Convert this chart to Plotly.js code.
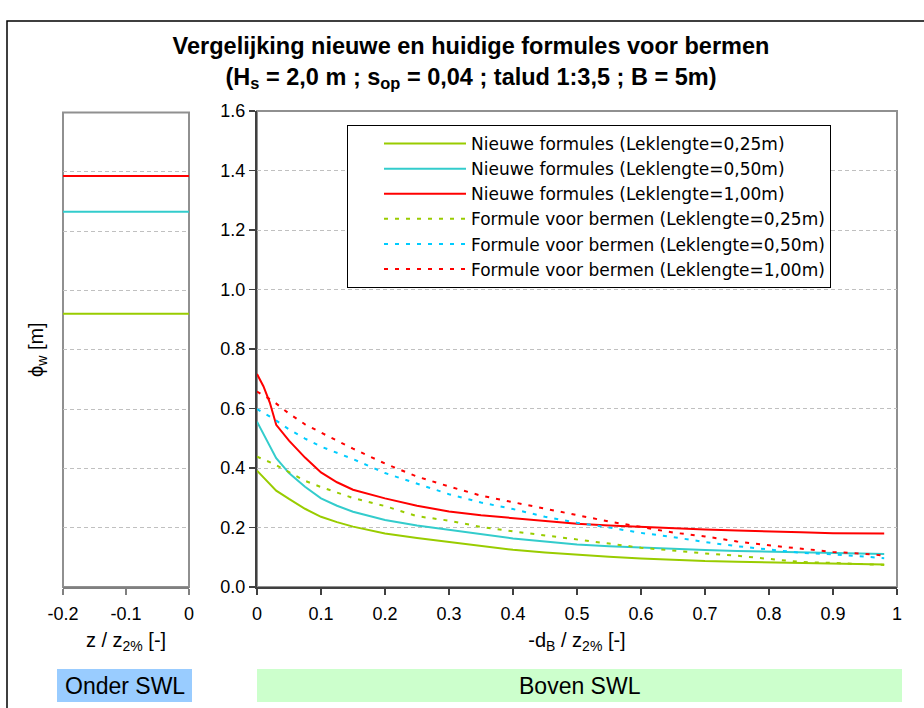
<!DOCTYPE html>
<html><head><meta charset="utf-8">
<script src="https://cdn.plot.ly/plotly-3.0.1.min.js"></script>
<style>html,body{margin:0;padding:0;background:#fff}#chart{width:924px;height:708px}</style>
</head><body><div id="chart"></div>
<script>
// ---- data ----
const xNew = [0, 0.01, 0.02, 0.03, 0.05, 0.075, 0.1, 0.125, 0.15, 0.2, 0.25, 0.3, 0.35, 0.4, 0.45, 0.5, 0.55, 0.6, 0.65, 0.7, 0.75, 0.8, 0.85, 0.9, 0.95, 0.98];
const newL025 = [0.391, 0.368, 0.346, 0.324, 0.296, 0.263, 0.236, 0.218, 0.203, 0.180, 0.165, 0.152, 0.140, 0.125, 0.116, 0.108, 0.102, 0.096, 0.091, 0.087, 0.085, 0.083, 0.080, 0.078, 0.077, 0.076];
const newL050 = [0.556, 0.515, 0.473, 0.433, 0.383, 0.337, 0.298, 0.273, 0.253, 0.225, 0.207, 0.192, 0.179, 0.163, 0.153, 0.143, 0.137, 0.132, 0.128, 0.124, 0.121, 0.119, 0.116, 0.113, 0.112, 0.111];
const newL100 = [0.716, 0.675, 0.620, 0.545, 0.492, 0.435, 0.385, 0.352, 0.327, 0.298, 0.273, 0.254, 0.241, 0.231, 0.222, 0.213, 0.207, 0.202, 0.197, 0.193, 0.190, 0.188, 0.184, 0.181, 0.180, 0.180];

const xBerm = [0, 0.025, 0.05, 0.075, 0.1, 0.15, 0.2, 0.25, 0.3, 0.35, 0.4, 0.45, 0.5, 0.55, 0.6, 0.65, 0.7, 0.75, 0.8, 0.85, 0.9, 0.95, 0.98];
const bermL025 = [0.438, 0.415, 0.386, 0.357, 0.336, 0.299, 0.272, 0.238, 0.223, 0.202, 0.187, 0.174, 0.161, 0.146, 0.132, 0.122, 0.113, 0.105, 0.095, 0.084, 0.081, 0.077, 0.074];
const bermL050 = [0.598, 0.567, 0.530, 0.499, 0.472, 0.430, 0.383, 0.348, 0.312, 0.284, 0.262, 0.236, 0.216, 0.200, 0.182, 0.168, 0.151, 0.137, 0.125, 0.115, 0.110, 0.103, 0.097];
const bermL100 = [0.657, 0.625, 0.583, 0.547, 0.519, 0.465, 0.415, 0.371, 0.338, 0.307, 0.285, 0.264, 0.241, 0.220, 0.202, 0.183, 0.170, 0.153, 0.140, 0.128, 0.118, 0.111, 0.106];

const xOnder = [-0.2, 0];
const onderL025 = [0.921, 0.921];
const onderL050 = [1.265, 1.265];
const onderL100 = [1.386, 1.386];

const seriesNames = [
  "Nieuwe formules (Leklengte=0,25m)",
  "Nieuwe formules (Leklengte=0,50m)",
  "Nieuwe formules (Leklengte=1,00m)",
  "Formule voor bermen (Leklengte=0,25m)",
  "Formule voor bermen (Leklengte=0,50m)",
  "Formule voor bermen (Leklengte=1,00m)"
];
const leftTickVals = [-0.2, -0.1, 0];
const leftTickText = ["-0.2", "-0.1", "0"];
const mainXTickVals = [0, 0.1, 0.2, 0.3, 0.4, 0.5, 0.6, 0.7, 0.8, 0.9, 1];
const mainXTickText = ["0", "0.1", "0.2", "0.3", "0.4", "0.5", "0.6", "0.7", "0.8", "0.9", "1"];
const yTickVals = [0, 0.2, 0.4, 0.6, 0.8, 1.0, 1.2, 1.4, 1.6];
const yTickText = ["0.0", "0.2", "0.4", "0.6", "0.8", "1.0", "1.2", "1.4", "1.6"];

// ---- styling ----
const W = 924, H = 708;
const FONT = "Liberation Sans, Arial, sans-serif";
const LEGFONT = "DejaVu Sans, Liberation Sans, sans-serif";
const cGreen = "#99CC00", cCyan = "#33CCCC", cRed = "#FF0000", cBlue = "#00CCFF";
const DASH = "4px,7px";
const GRIDDASH = "4px,3px";
const px = v => v / W;
const py = v => 1 - v / H;

const traces = [
  {x: xNew, y: newL025, name: seriesNames[0], mode: "lines", line: {color: cGreen, width: 2}, xaxis: "x", yaxis: "y"},
  {x: xNew, y: newL050, name: seriesNames[1], mode: "lines", line: {color: cCyan, width: 2}, xaxis: "x", yaxis: "y"},
  {x: xNew, y: newL100, name: seriesNames[2], mode: "lines", line: {color: cRed, width: 2}, xaxis: "x", yaxis: "y"},
  {x: xBerm, y: bermL025, name: seriesNames[3], mode: "lines", line: {color: cGreen, width: 2, dash: DASH}, xaxis: "x", yaxis: "y"},
  {x: xBerm, y: bermL050, name: seriesNames[4], mode: "lines", line: {color: cBlue, width: 2, dash: DASH}, xaxis: "x", yaxis: "y"},
  {x: xBerm, y: bermL100, name: seriesNames[5], mode: "lines", line: {color: cRed, width: 2, dash: DASH}, xaxis: "x", yaxis: "y"},
  {x: xOnder, y: onderL025, mode: "lines", line: {color: cGreen, width: 2}, xaxis: "x2", yaxis: "y2", showlegend: false},
  {x: xOnder, y: onderL050, mode: "lines", line: {color: cCyan, width: 2}, xaxis: "x2", yaxis: "y2", showlegend: false},
  {x: xOnder, y: onderL100, mode: "lines", line: {color: cRed, width: 2}, xaxis: "x2", yaxis: "y2", showlegend: false}
];

const tickFont = {family: FONT, size: 18, color: "#000"};
const axTitleFont = {family: FONT, size: 20, color: "#000"};
const layout = {
  width: W, height: H, autosize: false,
  margin: {l: 0, r: 0, t: 0, b: 0, pad: 0},
  paper_bgcolor: "#fff", plot_bgcolor: "#fff",
  font: {family: FONT, color: "#000"},
  showlegend: true,
  hovermode: false,
  title: {
    text: "<b>Vergelijking nieuwe en huidige formules voor bermen<br>(H<sub>s</sub> = 2,0 m ; s<sub>op</sub> = 0,04 ; talud 1:3,5 ; B = 5m)</b>",
    font: {family: FONT, size: 23.5, color: "#000"},
    x: px(471), xanchor: "center", y: py(54), yanchor: "top"
  },
  xaxis: {
    domain: [px(257), px(897)], range: [0, 1], anchor: "y",
    tickmode: "array", tickvals: mainXTickVals, ticktext: mainXTickText,
    ticks: "outside", ticklen: 6, tickwidth: 1.5, tickcolor: "#404040",
    showline: true, linecolor: "#404040", linewidth: 2, ticklabelstandoff: 3,
    showgrid: false, zeroline: false, tickfont: tickFont,
    title: {text: "-d<sub>B</sub> / z<sub>2%</sub> [-]", font: axTitleFont, standoff: 10}
  },
  yaxis: {
    domain: [py(587), py(111)], range: [0, 1.6], anchor: "x",
    tickmode: "array", tickvals: yTickVals, ticktext: yTickText,
    ticks: "outside", ticklen: 6, tickwidth: 1.5, tickcolor: "#404040",
    showline: true, linecolor: "#404040", linewidth: 2,
    showgrid: true, gridcolor: "#C0C0C0", griddash: GRIDDASH, gridwidth: 1,
    zeroline: false, tickfont: tickFont
  },
  xaxis2: {
    domain: [px(63), px(189)], range: [-0.2, 0], anchor: "y2",
    tickmode: "array", tickvals: leftTickVals, ticktext: leftTickText,
    ticks: "outside", ticklen: 6, tickwidth: 1.5, tickcolor: "#808080",
    showline: true, linecolor: "#808080", linewidth: 2, ticklabelstandoff: 3,
    showgrid: false, zeroline: false, tickfont: tickFont,
    title: {text: "z / z<sub>2%</sub> [-]", font: axTitleFont, standoff: 10}
  },
  yaxis2: {
    domain: [py(587), py(112.5)], range: [0, 1.6], anchor: "x2",
    tickmode: "array", tickvals: yTickVals, showticklabels: false, ticks: "",
    showline: false, showgrid: true, gridcolor: "#C0C0C0", griddash: GRIDDASH, gridwidth: 1,
    zeroline: false
  },
  legend: {
    x: px(347), y: py(125), xanchor: "left", yanchor: "top",
    bgcolor: "#fff", bordercolor: "#000", borderwidth: 1,
    font: {family: LEGFONT, size: 17, color: "#000"},
    itemwidth: 82, indentation: 31, tracegroupgap: 0
  },
  shapes: [
    {type: "rect", xref: "x domain", yref: "y domain", x0: 0, x1: 1, y0: 0, y1: 1, line: {color: "#909090", width: 2}, layer: "below"},
    {type: "rect", xref: "x2 domain", yref: "y2 domain", x0: 0, x1: 1, y0: 0, y1: 1, line: {color: "#909090", width: 2}, layer: "below"},
    {type: "rect", xref: "paper", yref: "paper", x0: px(7), x1: 1.05, y0: -0.05, y1: py(21), line: {color: "#000", width: 1.5}},
    {type: "rect", xref: "paper", yref: "paper", x0: px(57), x1: px(192), y0: py(702), y1: py(669), fillcolor: "#99CCFF", line: {width: 0}},
    {type: "rect", xref: "paper", yref: "paper", x0: px(257), x1: px(902), y0: py(702), y1: py(669), fillcolor: "#CCFFCC", line: {width: 0}}
  ],
  annotations: [
    {text: "Onder SWL", xref: "paper", yref: "paper", x: px(124.5), y: py(686), xanchor: "center", yanchor: "middle", showarrow: false, font: {family: FONT, size: 23, color: "#000"}},
    {text: "Boven SWL", xref: "paper", yref: "paper", x: px(579.5), y: py(686), xanchor: "center", yanchor: "middle", showarrow: false, font: {family: FONT, size: 23, color: "#000"}},
    {text: "\u03d5<sub>w</sub> [m]", xref: "paper", yref: "paper", x: px(38), y: py(350), xanchor: "center", yanchor: "middle", textangle: -90, showarrow: false, font: {family: FONT, size: 20, color: "#000"}}
  ]
};

Plotly.newPlot("chart", traces, layout, {staticPlot: true, displayModeBar: false});
</script>
</body></html>
